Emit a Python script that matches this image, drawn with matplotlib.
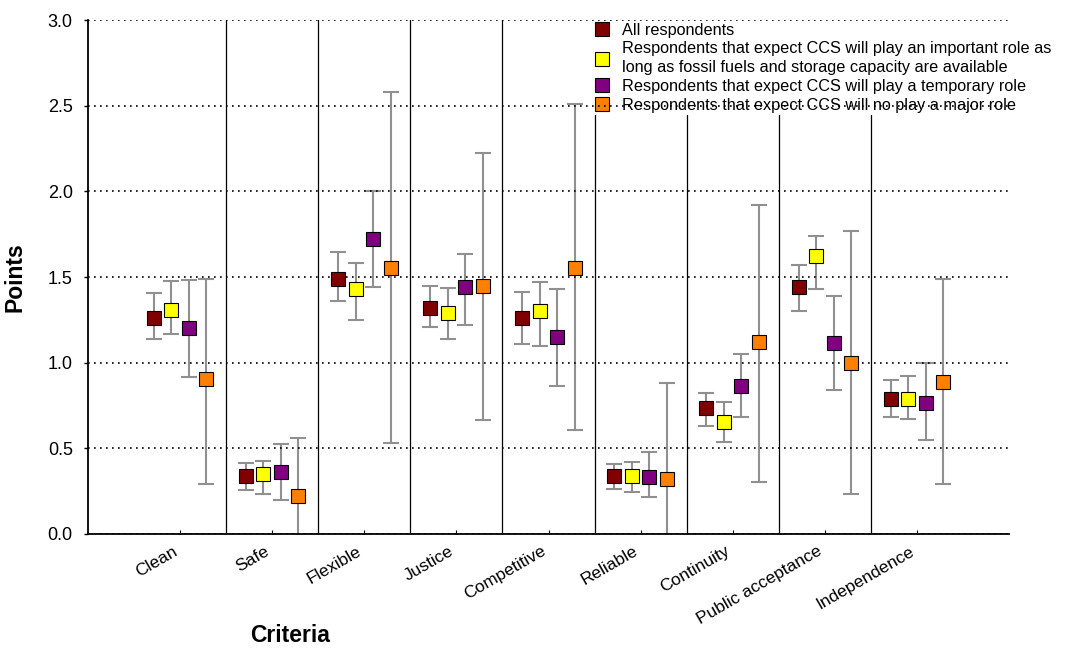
import numpy as np
import matplotlib
matplotlib.use("Agg")
import matplotlib.pyplot as plt

plt.rcParams['font.family'] = ['Liberation Sans', 'DejaVu Sans']

categories = ["Clean", "Safe", "Flexible", "Justice", "Competitive",
              "Reliable", "Continuity", "Public acceptance", "Independence"]

labels = ["All respondents",
          "Respondents that expect CCS will play an important role as\nlong as fossil fuels and storage capacity are available",
          "Respondents that expect CCS will play a temporary role",
          "Respondents that expect CCS will no play a major role"]
colors = ["#800000", "#ffff00", "#800080", "#ff8000"]

# mean points and interval bounds per group
all_mean = [1.26, 0.34, 1.49, 1.32, 1.26, 0.34, 0.735, 1.44, 0.79]
all_low = [1.14, 0.255, 1.36, 1.21, 1.11, 0.265, 0.63, 1.30, 0.685]
all_high = [1.405, 0.416, 1.646, 1.45, 1.41, 0.407, 0.825, 1.572, 0.899]

important_mean = [1.31, 0.35, 1.43, 1.29, 1.30, 0.337, 0.654, 1.62, 0.786]
important_low = [1.17, 0.233, 1.25, 1.14, 1.10, 0.243, 0.539, 1.43, 0.669]
important_high = [1.477, 0.426, 1.584, 1.434, 1.473, 0.418, 0.769, 1.741, 0.924]

temporary_mean = [1.204, 0.362, 1.722, 1.442, 1.15, 0.333, 0.866, 1.113, 0.767]
temporary_low = [0.915, 0.20, 1.443, 1.22, 0.864, 0.216, 0.685, 0.839, 0.547]
temporary_high = [1.483, 0.525, 2.0, 1.632, 1.432, 0.477, 1.052, 1.391, 1.0]

nomajor_mean = [0.907, 0.22, 1.554, 1.449, 1.554, 0.323, 1.121, 1.0, 0.887]
nomajor_low = [0.29, -0.12, 0.533, 0.667, 0.607, -0.23, 0.303, 0.235, 0.29]
nomajor_high = [1.49, 0.562, 2.58, 2.224, 2.51, 0.879, 1.92, 1.768, 1.49]

means = [all_mean, important_mean, temporary_mean, nomajor_mean]
lows = [all_low, important_low, temporary_low, nomajor_low]
highs = [all_high, important_high, temporary_high, nomajor_high]

fig = plt.figure(figsize=(10.83, 6.48), dpi=100)
ax = fig.add_axes([0.0813, 0.176, 0.8504, 0.793])

x = np.arange(len(categories))
offsets = [-0.285, -0.095, 0.095, 0.285]

for i in range(len(categories) - 1):
    ax.axvline(i + 0.5, color="black", lw=0.9, zorder=1)

handles = []
for m, lo, hi, c, lab, off in zip(means, lows, highs, colors, labels, offsets):
    m = np.array(m)
    err = [m - np.array(lo), np.array(hi) - m]
    ax.errorbar(x + off, m, yerr=err, fmt="none", ecolor="#909090",
                elinewidth=1.5, capsize=5.8, capthick=1.5, zorder=3.2)
    h, = ax.plot(x + off, m, ls="none", marker="s", ms=9.5, mfc=c,
                 mec="black", mew=0.8, label=lab, zorder=4)
    handles.append(h)

ax.set_xlim(-1, 9)
ax.set_ylim(0, 3.0)
ax.set_yticks(np.arange(0, 3.01, 0.5))
ax.set_yticklabels(["%.1f" % v for v in np.arange(0, 3.01, 0.5)])
ax.set_xticks(x)
ax.set_xticklabels(categories, rotation=30, ha="right", fontsize=12.5)
ax.tick_params(axis="y", labelsize=13, length=3, width=1, pad=8)
ax.tick_params(axis="x", direction="in", length=3, width=0.8, pad=7)

ax.yaxis.grid(True, color="black", lw=1.2, linestyle=(0, (1, 2.6)))
ax.yaxis.set_zorder(3.5)
for s in ["top", "right"]:
    ax.spines[s].set_visible(False)
for s in ["left", "bottom"]:
    ax.spines[s].set_linewidth(1.3)
    ax.spines[s].set_zorder(5)

ax.set_ylabel("Points", fontsize=16.5, fontweight="bold")
ax.yaxis.set_label_coords(-0.067, 0.5)
ax.set_xlabel("Criteria", fontsize=16.5, fontweight="bold")
ax.xaxis.set_label_coords(0.219, -0.175)

leg = ax.legend(handles=handles, loc="upper left", bbox_to_anchor=(0.547, 1.0),
                fontsize=11.7, frameon=True, facecolor="white", edgecolor="none",
                framealpha=1, fancybox=False, borderpad=0.15, borderaxespad=0,
                handlelength=1.0, handletextpad=0.7, labelspacing=0.24)
for t in leg.get_texts():
    t.set_linespacing(1.3)
leg.set_zorder(3)

fig.savefig("out.png", dpi=100)
